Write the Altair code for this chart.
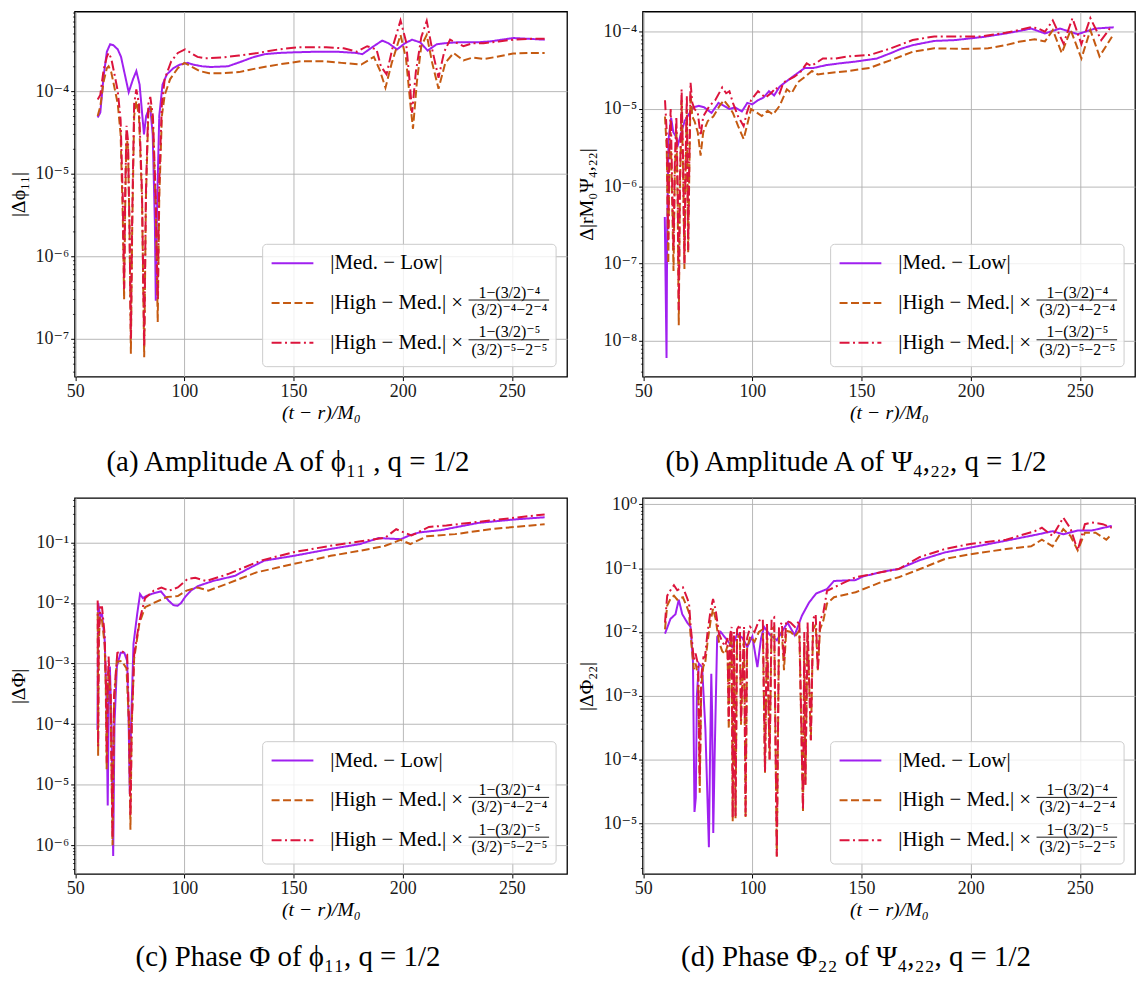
import altair as alt
import pandas as pd

# ---------------- data ----------------
# Panel (a): amplitude of phi_11
A_ML_T = [60.3, 61.5, 63.0, 64.5, 66.0, 67.5, 69.5, 71.0, 72.5, 74.5, 76.5, 78.0, 79.5, 81.5, 82.5, 84.3, 85.5, 86.5, 86.9, 87.4, 88.5, 90.0, 92.0, 95.0, 98.0, 101.5, 104.0, 108.0, 112.0, 120.0, 126.5, 131.0, 136.6, 143.0, 150.0, 160.0, 170.0, 179.0, 181.5, 186.0, 190.6, 193.5, 197.4, 201.0, 204.3, 208.0, 211.4, 215.6, 219.0, 224.8, 234.0, 240.0, 250.6, 258.0, 265.0]
A_ML_V = [4.8e-5, 5.5e-5, 1.5e-4, 3.0e-4, 3.7e-4, 3.6e-4, 3.2e-4, 2.6e-4, 1.7e-4, 9.7e-5, 1.4e-4, 1.75e-4, 1.2e-4, 3e-5, 5e-5, 6.6e-5, 3e-5, 2.5e-6, 2.9e-7, 3e-6, 5e-5, 1.2e-4, 1.6e-4, 1.9e-4, 2.1e-4, 2.2e-4, 2.1e-4, 2.0e-4, 1.96e-4, 2.0e-4, 2.3e-4, 2.55e-4, 2.8e-4, 2.9e-4, 2.95e-4, 3.0e-4, 3.0e-4, 2.9e-4, 2.8e-4, 3.4e-4, 4.1e-4, 3.8e-4, 3.2e-4, 3.8e-4, 4.2e-4, 3.9e-4, 3.1e-4, 3.7e-4, 3.8e-4, 3.9e-4, 3.9e-4, 4.0e-4, 4.4e-4, 4.3e-4, 4.2e-4]
A_H4_T = [60.3, 61.5, 63.0, 64.5, 65.3, 66.5, 68.0, 69.5, 70.8, 71.8, 72.4, 72.9, 73.5, 74.2, 74.9, 75.5, 76.1, 77.0, 78.0, 79.2, 80.6, 81.6, 82.4, 83.5, 84.5, 85.6, 86.9, 87.8, 88.5, 89.7, 91.0, 93.5, 97.0, 100.0, 103.0, 107.0, 111.3, 118.0, 125.0, 133.6, 143.0, 153.4, 164.0, 172.0, 181.0, 186.8, 189.5, 192.1, 195.0, 199.0, 201.5, 203.5, 204.7, 206.5, 208.5, 211.0, 213.5, 216.4, 219.5, 223.3, 227.8, 232.0, 237.0, 243.0, 250.6, 258.0, 265.0]
A_H4_V = [5.0e-5, 6.5e-5, 1.3e-4, 1.9e-4, 2.0e-4, 1.7e-4, 1.1e-4, 7e-5, 3e-5, 3e-6, 3.0e-7, 4e-6, 3e-5, 2e-5, 2e-6, 6.6e-8, 2e-6, 5e-5, 7.6e-5, 5e-5, 5e-6, 6e-8, 5e-6, 5.5e-5, 6.6e-5, 4e-5, 4e-6, 1.6e-7, 5e-6, 5e-5, 9e-5, 1.4e-4, 1.9e-4, 2.2e-4, 2.0e-4, 1.75e-4, 1.65e-4, 1.65e-4, 1.7e-4, 1.9e-4, 2.1e-4, 2.3e-4, 2.3e-4, 2.2e-4, 2.1e-4, 2.6e-4, 1.8e-4, 1.1e-4, 2.2e-4, 4.8e-4, 2.5e-4, 7e-5, 3.5e-5, 1.3e-4, 3.5e-4, 4.8e-4, 2.2e-4, 1.07e-4, 2.2e-4, 2.9e-4, 2.35e-4, 2.55e-4, 2.45e-4, 2.6e-4, 2.85e-4, 2.9e-4, 2.9e-4]
A_H5_T = [60.3, 61.5, 63.0, 64.5, 65.3, 66.5, 68.0, 69.5, 70.8, 71.8, 72.4, 72.9, 73.5, 74.2, 74.9, 75.5, 76.1, 77.0, 78.0, 79.2, 80.6, 81.6, 82.4, 83.5, 84.4, 85.6, 86.9, 87.8, 88.5, 89.7, 91.0, 94.0, 97.0, 100.3, 103.0, 106.0, 109.5, 117.0, 125.0, 133.6, 143.0, 151.8, 165.0, 173.0, 179.0, 183.7, 188.0, 190.0, 192.6, 195.5, 199.0, 201.5, 203.3, 204.3, 206.0, 208.5, 211.0, 213.5, 216.4, 219.0, 221.7, 227.8, 232.0, 237.0, 244.0, 250.6, 258.0, 265.0]
A_H5_V = [7.9e-5, 9e-5, 1.8e-4, 2.6e-4, 2.9e-4, 2.5e-4, 1.6e-4, 1.0e-4, 4.5e-5, 5e-6, 4e-7, 6e-6, 3.8e-5, 2.5e-5, 2e-6, 1e-7, 3e-6, 7e-5, 1.05e-4, 7e-5, 6e-6, 8e-8, 6e-6, 7e-5, 8.5e-5, 5e-5, 5e-6, 3e-7, 8e-6, 7e-5, 1.4e-4, 2.3e-4, 2.9e-4, 3.2e-4, 2.9e-4, 2.6e-4, 2.5e-4, 2.55e-4, 2.7e-4, 2.9e-4, 3.2e-4, 3.4e-4, 3.4e-4, 3.3e-4, 3.0e-4, 3.5e-4, 3.2e-4, 2.0e-4, 1.6e-4, 3.5e-4, 7.2e-4, 4.0e-4, 1.2e-4, 5.5e-5, 1.7e-4, 4.5e-4, 7.1e-4, 3.2e-4, 1.45e-4, 3.0e-4, 4.2e-4, 3.5e-4, 3.8e-4, 3.8e-4, 4.0e-4, 4.2e-4, 4.3e-4, 4.3e-4]

# Panel (b): amplitude of Psi_4,22
B_ML_T = [59.9, 60.3, 60.7, 61.0, 61.6, 62.8, 63.8, 64.8, 66.0, 67.5, 69.0, 71.4, 73.0, 75.5, 78.0, 81.3, 84.5, 87.0, 89.5, 92.0, 95.2, 97.7, 100.0, 102.6, 105.0, 107.6, 110.0, 112.5, 117.5, 124.0, 128.0, 133.9, 140.0, 147.0, 157.0, 163.5, 168.0, 173.4, 183.3, 193.0, 206.3, 216.0, 222.0, 227.7, 234.0, 240.9, 249.0, 257.0, 265.5]
B_ML_V = [4e-7, 5e-8, 6e-9, 3e-7, 4e-6, 7.7e-6, 5e-6, 4.5e-6, 3.5e-6, 5e-6, 7e-6, 9e-6, 1.05e-5, 1.1e-5, 1.05e-5, 8.9e-6, 1.2e-5, 1.1e-5, 1.0e-5, 1.05e-5, 9.3e-6, 1.2e-5, 1.15e-5, 1.3e-5, 1.4e-5, 1.7e-5, 1.5e-5, 1.95e-5, 2.5e-5, 3.4e-5, 3.4e-5, 3.7e-5, 3.9e-5, 4.1e-5, 4.5e-5, 5.3e-5, 6.0e-5, 6.7e-5, 7.6e-5, 7.8e-5, 8.6e-5, 9.5e-5, 1.02e-4, 1.1e-4, 9.5e-5, 1.1e-4, 9.3e-5, 1.1e-4, 1.14e-4]
B_H4_T = [60.0, 60.8, 61.5, 62.0, 62.6, 63.3, 63.9, 64.5, 65.2, 65.8, 66.3, 66.8, 67.6, 68.3, 68.9, 69.4, 70.0, 70.6, 71.2, 71.7, 72.5, 73.5, 75.0, 76.3, 77.5, 79.6, 82.1, 85.0, 87.0, 89.0, 91.1, 93.5, 96.0, 97.5, 99.4, 102.0, 104.3, 107.0, 109.5, 112.5, 115.8, 118.0, 120.7, 124.0, 127.3, 130.0, 133.9, 143.8, 153.7, 163.5, 173.4, 183.3, 196.4, 208.0, 216.0, 222.0, 229.3, 234.0, 237.6, 241.7, 245.8, 250.7, 254.8, 259.0, 264.7]
B_H4_V = [8e-6, 3e-6, 1e-7, 2e-6, 5e-6, 6e-7, 8e-8, 1.5e-6, 5.5e-6, 6e-7, 1.6e-8, 7e-7, 1.3e-5, 1.5e-6, 8.5e-8, 1.5e-6, 1e-5, 1.4e-7, 2e-6, 1.6e-5, 8e-6, 7e-6, 5e-6, 2.5e-6, 5e-6, 7e-6, 8e-6, 1.1e-5, 1.3e-5, 1.1e-5, 8.9e-6, 6e-6, 4.1e-6, 6e-6, 1e-5, 9e-6, 8.1e-6, 9.5e-6, 8.5e-6, 1.1e-5, 1.8e-5, 1.6e-5, 2.2e-5, 2.6e-5, 3.1e-5, 2.8e-5, 2.9e-5, 3.1e-5, 3.4e-5, 4.3e-5, 5.5e-5, 6.1e-5, 6.0e-5, 6.1e-5, 6.7e-5, 7.4e-5, 8.0e-5, 7.5e-5, 1.05e-4, 5.3e-5, 1.05e-4, 4.5e-5, 1.05e-4, 4.8e-5, 8.6e-5]
B_H5_T = [60.0, 60.8, 61.5, 62.0, 62.6, 63.3, 63.9, 64.5, 65.2, 65.8, 66.3, 66.8, 67.6, 68.3, 68.9, 69.4, 70.0, 70.6, 71.2, 71.7, 72.5, 73.5, 75.0, 76.3, 77.5, 80.4, 83.0, 86.2, 88.0, 89.5, 91.1, 93.5, 96.0, 97.5, 99.4, 102.6, 106.0, 108.5, 110.9, 112.5, 114.2, 119.1, 122.0, 124.9, 127.0, 132.3, 138.0, 143.8, 153.7, 163.5, 173.4, 183.3, 193.0, 204.6, 216.0, 222.0, 227.7, 231.0, 234.0, 237.6, 240.0, 242.5, 246.6, 250.7, 254.8, 259.8, 264.7]
B_H5_V = [1.3e-5, 5e-6, 2e-7, 3e-6, 1e-5, 1e-6, 1.5e-7, 2e-6, 8e-6, 1e-6, 2.5e-8, 1e-6, 1.8e-5, 2e-6, 1e-7, 2e-6, 1.5e-5, 1.5e-7, 3e-6, 2.2e-5, 1.2e-5, 1.0e-5, 9e-6, 4.5e-6, 8e-6, 1.1e-5, 1.3e-5, 1.9e-5, 1.6e-5, 1.7e-5, 1.2e-5, 8e-6, 6e-6, 9e-6, 1.3e-5, 1.7e-5, 1.4e-5, 1.6e-5, 1.9e-5, 1.6e-5, 2.2e-5, 2.6e-5, 3.0e-5, 3.9e-5, 3.6e-5, 4.5e-5, 4.5e-5, 4.8e-5, 5.0e-5, 6.1e-5, 7.8e-5, 8.7e-5, 8.7e-5, 8.7e-5, 9.7e-5, 1.05e-4, 1.15e-4, 1.1e-4, 1.0e-4, 1.4e-4, 1.0e-4, 7e-5, 1.5e-4, 6.9e-5, 1.5e-4, 7.8e-5, 1.2e-4]

# Panel (c): phase of phi_11
C_ML_T = [60.2, 60.5, 61.5, 62.3, 63.5, 64.3, 64.9, 65.4, 65.9, 66.6, 67.4, 68.0, 69.1, 70.8, 72.5, 73.8, 74.5, 75.0, 75.6, 76.7, 78.4, 79.7, 81.0, 82.5, 86.0, 89.3, 92.7, 95.0, 96.9, 98.5, 100.3, 103.0, 106.2, 113.0, 123.1, 130.0, 136.6, 150.1, 167.0, 180.5, 189.0, 195.0, 199.1, 203.0, 207.5, 217.7, 234.6, 251.5, 265.0]
C_ML_V = [8e-5, 1e-2, 6e-3, 6.6e-3, 2.4e-3, 3e-4, 4.5e-6, 3e-4, 8.9e-4, 1e-4, 6.6e-7, 1e-4, 9e-4, 1.5e-3, 1.5e-3, 1.1e-3, 1e-4, 7e-6, 1e-4, 2.1e-3, 6.6e-3, 1.4e-2, 1.2e-2, 1.3e-2, 1.45e-2, 1.55e-2, 1.1e-2, 9.2e-3, 9.0e-3, 1.0e-2, 1.25e-2, 1.6e-2, 1.9e-2, 2.3e-2, 2.8e-2, 3.8e-2, 5.0e-2, 6.0e-2, 7.8e-2, 9.4e-2, 1.18e-1, 1.15e-1, 1.13e-1, 1.3e-1, 1.46e-1, 1.6e-1, 2.1e-1, 2.4e-1, 2.6e-1]
C_H4_T = [60.3, 60.5, 60.8, 61.3, 62.3, 63.5, 64.0, 64.4, 64.8, 65.3, 66.2, 67.1, 67.8, 69.0, 71.3, 73.5, 74.6, 75.3, 75.9, 77.0, 79.4, 82.0, 86.0, 92.0, 97.0, 101.0, 106.0, 111.0, 120.0, 133.0, 150.0, 167.0, 185.0, 192.0, 199.0, 203.5, 211.0, 224.0, 240.0, 265.0]
C_H4_V = [7e-3, 3e-5, 2e-3, 6e-3, 5.1e-3, 2e-3, 4e-4, 1.8e-5, 3e-4, 8e-4, 3e-4, 1e-6, 2e-4, 1.07e-3, 1.1e-3, 8.3e-4, 1e-4, 1.8e-6, 1e-4, 1.2e-3, 4.6e-3, 8.5e-3, 1.0e-2, 1.25e-2, 1.3e-2, 1.6e-2, 1.8e-2, 1.6e-2, 2.1e-2, 3.2e-2, 4.4e-2, 6.0e-2, 7.8e-2, 8.8e-2, 1.1e-1, 9.4e-2, 1.26e-1, 1.37e-1, 1.65e-1, 2.0e-1]
C_H5_T = [60.3, 60.5, 60.8, 61.5, 62.3, 63.5, 64.1, 64.5, 64.9, 65.3, 66.2, 67.1, 67.8, 69.3, 71.3, 73.8, 74.7, 75.3, 75.9, 77.0, 79.4, 82.0, 86.0, 89.5, 93.0, 97.0, 101.5, 105.0, 110.0, 120.0, 135.0, 150.0, 167.0, 185.0, 192.0, 197.0, 204.0, 212.0, 220.0, 240.0, 265.0]
C_H5_V = [1.1e-2, 4.3e-5, 3e-3, 8.5e-3, 8.5e-3, 3e-3, 4e-4, 2.3e-5, 4e-4, 1.3e-3, 3e-4, 1.3e-6, 3e-4, 1.5e-3, 1.6e-3, 1.4e-3, 1e-4, 3e-6, 1e-4, 1.4e-3, 5e-3, 1.2e-2, 1.6e-2, 1.8e-2, 1.6e-2, 1.8e-2, 2.5e-2, 2.6e-2, 2.3e-2, 3.0e-2, 5.0e-2, 6.9e-2, 8.8e-2, 1.1e-1, 1.2e-1, 1.65e-1, 1.3e-1, 1.8e-1, 1.9e-1, 2.3e-1, 2.9e-1]

# Panel (d): phase of Psi_4,22
D_ML_T = [60.0, 62.5, 64.8, 66.3, 67.9, 70.2, 71.7, 72.8, 73.5, 74.1, 74.6, 75.5, 77.0, 78.5, 80.1, 80.6, 81.2, 81.6, 82.1, 82.7, 83.9, 85.5, 88.5, 90.8, 93.1, 95.5, 97.7, 100.0, 102.3, 104.0, 105.4, 108.0, 111.2, 116.1, 119.4, 122.7, 126.0, 129.2, 134.2, 137.4, 147.3, 150.6, 160.4, 167.0, 176.8, 188.3, 199.8, 216.2, 231.0, 237.5, 242.4, 249.0, 255.5, 264.6]
D_ML_V = [9.4e-3, 1.6e-2, 1.9e-2, 3.2e-2, 1.9e-2, 1.4e-2, 1.2e-2, 3.5e-3, 1.5e-5, 2.5e-5, 1e-3, 3.2e-3, 2.8e-3, 3e-4, 4.2e-6, 1e-4, 2.2e-3, 5e-4, 7e-6, 1e-4, 8.4e-3, 1.0e-2, 7.4e-3, 5.8e-3, 9.4e-3, 8e-3, 5.8e-3, 8.5e-3, 2.8e-3, 8e-3, 1.2e-2, 9e-3, 7.4e-3, 1.4e-2, 8.9e-3, 1.8e-2, 2.9e-2, 4e-2, 4.7e-2, 6.3e-2, 6.5e-2, 7.4e-2, 8.9e-2, 9.7e-2, 1.34e-1, 1.77e-1, 2.1e-1, 2.7e-1, 3.4e-1, 3.8e-1, 3.4e-1, 3.9e-1, 3.9e-1, 4.6e-1]
D_HM_T = [60.0, 61.0, 62.5, 64.1, 65.6, 67.0, 68.2, 70.0, 71.0, 71.7, 73.2, 74.0, 75.2, 75.9, 76.6, 77.6, 78.3, 79.5, 80.9, 82.0, 83.2, 84.7, 86.2, 87.5, 88.6, 89.2, 89.8, 90.5, 91.0, 91.6, 92.3, 93.0, 94.3, 94.8, 96.2, 96.9, 97.6, 99.0, 101.0, 103.0, 104.8, 105.8, 106.7, 107.9, 108.8, 110.0, 111.2, 112.2, 113.5, 114.5, 115.5, 117.5, 119.5, 121.5, 123.2, 123.8, 124.3, 125.3, 126.8, 127.8, 129.0, 130.0, 131.0, 132.5, 134.2, 137.4, 147.3, 158.8, 167.0, 176.8, 188.3, 199.8, 216.2]
D_H4_V = [1.1e-2, 2.6e-2, 3.3e-2, 3.7e-2, 3.2e-2, 3.4e-2, 3.5e-2, 2.5e-2, 2e-2, 9e-3, 2.6e-3, 3.2e-3, 2e-3, 3e-5, 1.4e-3, 3e-3, 3e-3, 7e-3, 1.5e-2, 2.3e-2, 1.6e-2, 7e-3, 5e-3, 4.5e-3, 6e-3, 3e-4, 6.5e-3, 8.5e-3, 1.07e-5, 7e-3, 1.2e-5, 8e-3, 9e-3, 3.5e-4, 8.5e-3, 1.2e-5, 5.5e-3, 8.5e-3, 7e-3, 1e-2, 1.1e-2, 6.2e-5, 1e-2, 1e-4, 1.1e-2, 1.2e-2, 3e-6, 8.5e-3, 1e-2, 2.5e-3, 1.05e-2, 1e-2, 8.5e-3, 1.05e-2, 1.55e-5, 7e-3, 4e-5, 1e-2, 2e-4, 1.1e-2, 1.3e-2, 2.5e-3, 1.1e-2, 1.5e-2, 2.8e-2, 3.5e-2, 4.2e-2, 6.0e-2, 7.2e-2, 9.7e-2, 1.4e-1, 1.65e-1, 2.0e-1]
D_H4_T_TAIL = [227.7, 232.6, 237.5, 242.4, 245.7, 249.0, 252.3, 257.2, 262.1, 264.6]
D_H4_V_TAIL = [2.2e-1, 2.8e-1, 2.2e-1, 4.1e-1, 3.2e-1, 1.9e-1, 3.6e-1, 3.6e-1, 2.8e-1, 3.4e-1]
D_H5_V = [1.4e-2, 3.7e-2, 4.5e-2, 5.4e-2, 4.5e-2, 4.8e-2, 5.0e-2, 3.5e-2, 2.8e-2, 1.3e-2, 3.6e-3, 4.6e-3, 3e-3, 5e-5, 2e-3, 4e-3, 4e-3, 1e-2, 2.2e-2, 3.3e-2, 2.2e-2, 9.5e-3, 7e-3, 6e-3, 8e-3, 4e-4, 9e-3, 1.2e-2, 1.2e-5, 1e-2, 1.3e-5, 1.1e-2, 1.3e-2, 4e-4, 1.2e-2, 1.3e-5, 8e-3, 1.2e-2, 1.0e-2, 1.5e-2, 1.6e-2, 6.5e-5, 1.4e-2, 1.0e-4, 1.6e-2, 1.7e-2, 3e-6, 1.2e-2, 1.4e-2, 3.6e-3, 1.5e-2, 1.4e-2, 1.2e-2, 1.5e-2, 1.6e-5, 1e-2, 4e-5, 1.4e-2, 2e-4, 1.6e-2, 1.9e-2, 2.5e-3, 1.5e-2, 2e-2, 4.4e-2, 5.0e-2, 7.2e-2, 8.6e-2, 9.7e-2, 1.5e-1, 2.0e-1, 2.4e-1, 2.8e-1]
D_H5_T_TAIL = [229.3, 232.6, 237.5, 242.4, 245.7, 249.0, 252.3, 255.5, 260.5, 264.6]
D_H5_V_TAIL = [3.8e-1, 4.3e-1, 3.2e-1, 6.2e-1, 4.2e-1, 1.9e-1, 4.9e-1, 5.2e-1, 4.9e-1, 4.3e-1]

# ---------------- styling ----------------
KEYS = ["ml", "h4", "h5"]
COLORS = ["#a020f0", "#c55a11", "#dc143c"]
DASHES = [[1, 0], [8, 3.5], [10, 3.5, 2, 3.5]]
SERIF = "Liberation Serif, DejaVu Serif, serif"

LABEL_EXPR = "datum.value == 'ml' ? '|Med. \u2212 Low|' : '|High \u2212 Med.| \u00d7'"
IS_DECADE = "abs(log(datum.value)/LN10 - round(log(datum.value)/LN10)) < 0.01"
SUP_EXPR = ("!(" + IS_DECADE + ") ? '' : (datum.value >= 0.999 ? '10\u2070' : '10\u207b' + "
            "['\u2070','\u00b9','\u00b2','\u00b3','\u2074','\u2075','\u2076','\u2077','\u2078','\u2079']"
            "[round(-log(datum.value)/LN10)])")

W = 495
ROW_PITCH = 40


def log_ticks(lo_exp, hi_exp, lo, hi):
    vals = []
    for e in range(lo_exp, hi_exp + 1):
        for k in range(1, 10):
            v = k * 10.0 ** e
            if lo <= v <= hi:
                vals.append(v)
    return vals


def legend(H):
    # legend entries (symbols + labels); the frame and the fractions are drawn as layers
    return alt.Legend(
        title=None, orient="none", legendX=W - 298, legendY=H - 136, symbolType="stroke",
        symbolSize=1764, symbolStrokeWidth=2, labelFont=SERIF, labelFontSize=21,
        labelColor="black", labelLimit=600, labelOffset=16, labelExpr=LABEL_EXPR,
        padding=0, rowPadding=ROW_PITCH - 32,
    )


def legend_layers(H):
    out = [
        alt.Chart(pd.DataFrame({"txt": [""]}))
        .mark_rect(fill="white", fillOpacity=0.8, stroke="#cccccc", strokeWidth=1, cornerRadius=4)
        .encode(x=alt.value(W - 306), x2=alt.value(W - 11), y=alt.value(H - 133), y2=alt.value(H - 10))
    ]
    rows = [(H - 116 + ROW_PITCH, "1\u2212(3/2)\u207b\u2074", "(3/2)\u207b\u2074\u22122\u207b\u2074"),
            (H - 116 + 2 * ROW_PITCH, "1\u2212(3/2)\u207b\u2075", "(3/2)\u207b\u2075\u22122\u207b\u2075")]
    for yc, num, den in rows:
        for txt, dy in [(num, -8.5), (den, 9)]:
            out.append(
                alt.Chart(pd.DataFrame({"txt": [txt]}))
                .mark_text(font=SERIF, fontSize=16, color="black", align="center", baseline="middle")
                .encode(text="txt:N", x=alt.value(W - 58), y=alt.value(yc + dy))
            )
        out.append(
            alt.Chart(pd.DataFrame({"txt": [""]}))
            .mark_rule(color="black", strokeWidth=0.9)
            .encode(x=alt.value(W - 99), x2=alt.value(W - 18), y=alt.value(yc - 1))
        )
    return out


def panel(series, ydom_exp, ytitle, caption, H, cap_offset):
    frames = [pd.DataFrame({"t": t, "v": v, "s": k}) for k, (t, v) in zip(KEYS, series)]
    df = pd.concat(frames, ignore_index=True)
    lo, hi = 10 ** ydom_exp[0], 10 ** ydom_exp[1]
    yvals = log_ticks(int(ydom_exp[0]) - 1, int(ydom_exp[1]) + 1, lo, hi)
    x = alt.X("t:Q", scale=alt.Scale(domain=[49.75, 275.25], nice=False, zero=False),
              axis=alt.Axis(values=[50, 100, 150, 200, 250], format="d", title="(t \u2212 r)/M\u2080",
                            titleFontStyle="italic", titlePadding=2))
    y = alt.Y("v:Q", scale=alt.Scale(type="log", domain=[lo, hi], nice=False),
              axis=alt.Axis(values=yvals, labelExpr=SUP_EXPR, title=ytitle,
                            minExtent=44, maxExtent=44, titlePadding=2,
                            labelFontSize={"condition": {"test": IS_DECADE, "value": 18}, "value": 0.1},
                            tickSize={"condition": {"test": IS_DECADE, "value": 4}, "value": 2.2},
                            tickWidth={"condition": {"test": IS_DECADE, "value": 1}, "value": 0.7},
                            gridOpacity={"condition": {"test": IS_DECADE, "value": 1}, "value": 0}))
    lg = legend(H)
    color = alt.Color("s:N", scale=alt.Scale(domain=KEYS, range=COLORS), legend=lg)
    dash = alt.StrokeDash("s:N", scale=alt.Scale(domain=KEYS, range=DASHES), legend=lg)
    layers = []
    for k in KEYS:
        layers.append(
            alt.Chart(df).transform_filter(alt.datum.s == k)
            .mark_line(clip=True, strokeWidth=2)
            .encode(x=x, y=y, color=color, strokeDash=dash)
        )
    layers += legend_layers(H)
    return alt.layer(*layers).properties(
        width=W, height=H,
        title=alt.TitleParams(caption, orient="bottom", anchor="middle", frame="bounds",
                              font=SERIF, fontSize=29, fontWeight="normal", color="black",
                              offset=cap_offset),
    )


pa = panel([(A_ML_T, A_ML_V), (A_H4_T, A_H4_V), (A_H5_T, A_H5_V)],
           [-7.458, -3.036], "|\u0394\u03d5\u2081\u2081|",
           "(a) Amplitude A of \u03d5\u2081\u2081 , q = 1/2", 367, 26)
pb = panel([(B_ML_T, B_ML_V), (B_H4_T, B_H4_V), (B_H5_T, B_H5_V)],
           [-8.462, -3.739], "\u0394|rM\u2080\u03a8\u2084,\u2082\u2082|",
           "(b) Amplitude A of \u03a8\u2084,\u2082\u2082, q = 1/2", 367, 26)
pc = panel([(C_ML_T, C_ML_V), (C_H4_T, C_H4_V), (C_H5_T, C_H5_V)],
           [-6.476, -0.266], "|\u0394\u03a6|",
           "(c) Phase \u03a6 of \u03d5\u2081\u2081, q = 1/2", 378, 24)
pd_ = panel([(D_ML_T, D_ML_V), (D_HM_T + D_H4_T_TAIL, D_H4_V + D_H4_V_TAIL),
             (D_HM_T + D_H5_T_TAIL, D_H5_V + D_H5_V_TAIL)],
            [-5.796, 0.101], "|\u0394\u03a6\u2082\u2082|",
            "(d) Phase \u03a6\u2082\u2082 of \u03a8\u2084,\u2082\u2082, q = 1/2", 378, 24)

chart = (
    alt.concat(pa, pb, pc, pd_, columns=2, spacing={"row": 122, "column": 76}, bounds="flush")
    .resolve_scale(color="independent", strokeDash="independent")
    .properties(padding=0, background="white")
    .configure_view(stroke="black", strokeWidth=1.3)
    .configure_axis(
        labelFont=SERIF, labelFontSize=18, labelColor="#1a1a1a", labelFlush=False,
        labelPadding=2, labelOverlap=False,
        titleFont=SERIF, titleFontSize=20, titleFontWeight="normal", titleColor="black",
        tickColor="black", tickSize=4, tickWidth=1, domain=False,
        grid=True, gridColor="#b0b0b0", gridWidth=0.9,
    )
)

chart.save("out.html", embed_options={"renderer": "svg", "actions": False})
